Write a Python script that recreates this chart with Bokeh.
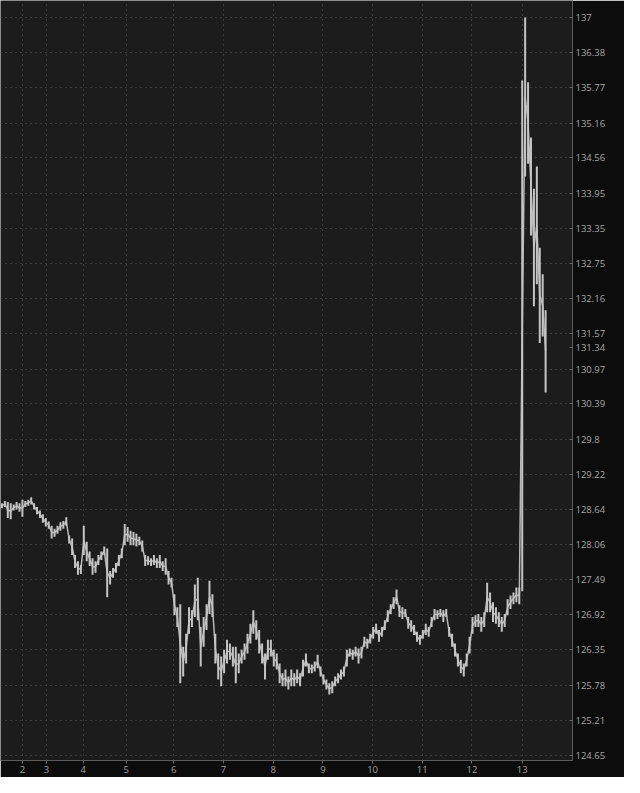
import math
from bokeh.plotting import figure
from bokeh.models import Range1d, FixedTicker, BoxAnnotation, NumeralTickFormatter, ColumnDataSource
from bokeh.embed import file_html
from bokeh.resources import INLINE

# ---- data ----
day_labels = ["2", "3", "4", "5", "6", "7", "8", "9", "10", "11", "12", "13"]
day_pos = [7.0, 15.2, 27.8, 42.5, 58.8, 75.8, 92.8, 109.8, 126.8, 143.8, 160.8, 178.0]

ytick_values = [137, 136.38, 135.77, 135.16, 134.56, 133.95, 133.35, 132.75, 132.16, 131.57, 130.97,
                130.39, 129.8, 129.22, 128.64, 128.06, 127.49, 126.92, 126.35, 125.78, 125.21, 124.65]
ytick_labels = ["137", "136.38", "135.77", "135.16", "134.56", "133.95", "133.35", "132.75", "132.16", "131.57",
                "130.97", "130.39", "129.8", "129.22", "128.64", "128.06", "127.49", "126.92", "126.35",
                "125.78", "125.21", "124.65"]

bar_high = [
    128.74, 128.78, 128.76, 128.74, 128.72, 128.76, 128.74, 128.80, 128.78, 128.80, 128.84, 128.74,
    128.68, 128.62, 128.56, 128.50, 128.44, 128.37, 128.32, 128.37, 128.43, 128.45, 128.51, 128.21,
    128.16, 127.89, 127.79, 127.73, 128.37, 128.11, 127.95, 127.84, 127.79, 127.89, 127.95, 128.03,
    128.00, 127.63, 127.68, 127.76, 127.89, 128.00, 128.40, 128.35, 128.29, 128.27, 128.24, 128.19,
    128.13, 127.89, 127.87, 127.84, 127.89, 127.84, 127.89, 127.79, 127.84, 127.63, 127.52, 127.25,
    127.04, 127.09, 126.40, 126.61, 127.04, 126.99, 127.41, 127.52, 126.72, 126.88, 127.09, 127.47,
    127.25, 126.61, 126.29, 126.24, 126.35, 126.51, 126.45, 126.40, 126.40, 126.29, 126.35, 126.45,
    126.61, 126.77, 126.99, 126.83, 126.67, 126.45, 126.29, 126.51, 126.51, 126.35, 126.29, 126.13,
    125.97, 126.03, 125.92, 126.03, 125.97, 126.03, 125.97, 126.19, 126.29, 126.13, 126.11, 126.16,
    126.27, 126.08, 125.95, 125.87, 125.81, 125.84, 125.92, 125.97, 126.03, 126.08, 126.35, 126.37,
    126.35, 126.40, 126.37, 126.40, 126.56, 126.53, 126.61, 126.72, 126.77, 126.67, 126.72, 126.83,
    126.99, 127.09, 127.20, 127.33, 127.07, 127.04, 127.01, 126.88, 126.83, 126.75, 126.64, 126.59,
    126.67, 126.77, 126.72, 126.88, 127.01, 126.99, 127.01, 126.99, 127.01, 126.72, 126.61, 126.45,
    126.29, 126.19, 126.13, 126.29, 126.56, 126.88, 126.91, 126.93, 126.88, 126.96, 127.44, 127.28,
    127.12, 127.04, 126.96, 126.88, 126.93, 127.17, 127.23, 127.28, 127.36, 127.36, 135.90, 137.00,
    135.87, 134.91, 134.03, 134.41, 133.02, 132.57, 131.96,
]
bar_low = [
    128.66, 128.68, 128.50, 128.48, 128.62, 128.64, 128.60, 128.52, 128.68, 128.70, 128.72, 128.64,
    128.56, 128.50, 128.42, 128.36, 128.32, 128.16, 128.19, 128.24, 128.29, 128.32, 128.37, 128.08,
    127.89, 127.68, 127.57, 127.58, 127.89, 127.79, 127.71, 127.57, 127.60, 127.73, 127.81, 127.89,
    127.20, 127.41, 127.52, 127.60, 127.71, 127.84, 128.05, 128.11, 128.05, 128.05, 128.03, 128.05,
    127.95, 127.71, 127.73, 127.71, 127.73, 127.68, 127.68, 127.63, 127.57, 127.41, 127.36, 126.91,
    126.72, 125.81, 125.92, 126.13, 126.61, 126.72, 126.88, 126.83, 126.08, 126.40, 126.67, 126.93,
    126.88, 126.13, 125.87, 125.76, 125.97, 126.13, 126.19, 126.08, 125.81, 125.97, 126.13, 126.19,
    126.29, 126.45, 126.61, 126.51, 126.29, 126.13, 125.87, 126.19, 126.24, 126.08, 126.03, 125.81,
    125.76, 125.76, 125.71, 125.76, 125.76, 125.81, 125.76, 125.92, 126.08, 125.97, 125.97, 126.00,
    126.05, 125.92, 125.79, 125.71, 125.63, 125.65, 125.76, 125.81, 125.87, 125.92, 126.08, 126.24,
    126.19, 126.24, 126.13, 126.21, 126.40, 126.37, 126.45, 126.53, 126.61, 126.48, 126.56, 126.67,
    126.80, 126.93, 127.01, 127.09, 126.88, 126.85, 126.88, 126.69, 126.64, 126.59, 126.48, 126.43,
    126.53, 126.59, 126.56, 126.72, 126.83, 126.85, 126.88, 126.80, 126.88, 126.56, 126.40, 126.24,
    126.08, 125.97, 125.92, 126.08, 126.29, 126.61, 126.72, 126.72, 126.64, 126.72, 126.96, 126.96,
    126.80, 126.77, 126.72, 126.64, 126.72, 126.91, 127.01, 127.09, 127.12, 127.09, 127.30, 134.24,
    134.46, 133.23, 132.03, 132.40, 131.41, 131.52, 130.58,
]
last_price = 131.34
last_price_label = "131.34"

# ---- figure ----
X_START, X_END = -0.5, 195.2
Y_LO, Y_HI = 124.572, 137.297
FRAME_W, FRAME_H = 572, 760

xs = list(range(len(bar_high)))
mid = [(h + l) / 2 for h, l in zip(bar_high, bar_low)]
src = ColumnDataSource(dict(x=xs, hi=bar_high, lo=bar_low, mid=mid))

p = figure(width=624, height=777, output_backend="svg", toolbar_location=None,
           y_axis_type="log", y_axis_location="right",
           x_range=Range1d(X_START, X_END), y_range=Range1d(Y_LO, Y_HI),
           min_border_left=0, min_border_top=0, min_border_right=52, min_border_bottom=17)

p.background_fill_color = "#1c1c1c"
p.border_fill_color = "#0c0c0c"
p.outline_line_color = None

FONT = "Open Sans"

# y axis (the last-price tag is an extra labelled tick on the price axis)
axis_ticks = ytick_values + [last_price]
axis_labels = ytick_labels + [last_price_label]
p.yaxis.ticker = FixedTicker(ticks=axis_ticks)
p.yaxis.formatter = NumeralTickFormatter(format="0.[00]")
p.yaxis.major_label_overrides = dict(zip(axis_ticks, axis_labels))
p.yaxis.axis_line_color = "#5c5c5c"
p.yaxis.major_tick_line_color = "#6a6a6a"
p.yaxis.major_tick_in = 3
p.yaxis.major_tick_out = 0
p.yaxis.minor_tick_line_color = None
p.yaxis.major_label_standoff = 3
p.yaxis.major_label_text_color = "#a8a8a8"
p.yaxis.major_label_text_font = FONT
p.yaxis.major_label_text_font_size = "9.5px"

# x axis
p.xaxis.ticker = FixedTicker(ticks=day_pos)
p.xaxis.major_label_overrides = dict(zip(day_pos, day_labels))
p.xaxis.axis_line_color = "#5c5c5c"
p.xaxis.major_tick_line_color = "#6a6a6a"
p.xaxis.major_tick_in = 0
p.xaxis.major_tick_out = 3
p.xaxis.minor_tick_line_color = None
p.xaxis.major_label_standoff = 2
p.xaxis.major_label_text_color = "#a0a0a0"
p.xaxis.major_label_text_font = FONT
p.xaxis.major_label_text_font_size = "9.5px"

# grids (only at the regular price ticks)
p.ygrid.ticker = FixedTicker(ticks=ytick_values)
for g in (p.xgrid, p.ygrid):
    g.grid_line_color = "#5a5a5a"
    g.grid_line_dash = "1 4"
    g.grid_line_width = 1

# price bars
p.line(x="x", y="mid", source=src, line_color="#b8b8b8", line_width=1.5)
p.segment(x0="x", y0="lo", x1="x", y1="hi", source=src, line_color="#c4c4c4", line_width=2)

# light box behind the last-price tick label, drawn in the axis panel (under the axis text)
px_x = (X_END - X_START) / FRAME_W
px_lny = math.log(Y_HI / Y_LO) / FRAME_H
tag_box = BoxAnnotation(left=X_END + 1 * px_x, right=X_END + 34 * px_x,
                        bottom=last_price * math.exp(-6.5 * px_lny), top=last_price * math.exp(6.5 * px_lny),
                        fill_color="#d2d2d2", fill_alpha=1.0, line_color="#e4e4e4", line_width=1,
                        border_radius=3, level="guide")
p.right = [tag_box] + list(p.right)

open("out.html", "w").write(file_html(p, INLINE))
